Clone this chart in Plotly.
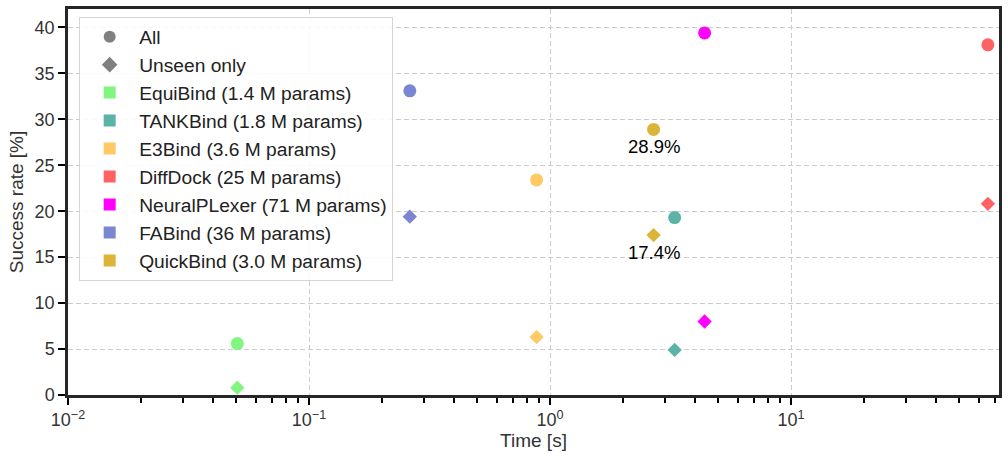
import math
import plotly.graph_objects as go

# values
methods = ['EquiBind (1.4 M params)', 'TANKBind (1.8 M params)', 'E3Bind (3.6 M params)',
           'DiffDock (25 M params)', 'NeuralPLexer (71 M params)', 'FABind (36 M params)',
           'QuickBind (3.0 M params)']
colors = ['#80f580', '#5bb3a6', '#ffc964', '#ff6262', '#ff00ff', '#7b86d2', '#dcb43a']
times = [0.0504, 3.29, 0.88, 65.6, 4.38, 0.262, 2.69]
success_all = [5.6, 19.3, 23.4, 38.1, 39.4, 33.1, 28.9]
success_unseen = [0.8, 4.9, 6.3, 20.8, 8.0, 19.4, 17.4]

labelled = 'QuickBind (3.0 M params)'

font = 'Liberation Sans, Arial, sans-serif'

fig = go.Figure()

# legend-only entries for the marker shapes
fig.add_trace(go.Scatter(x=[None], y=[None], mode='markers', name='All',
                         marker=dict(symbol='circle', size=11, color='grey')))
fig.add_trace(go.Scatter(x=[None], y=[None], mode='markers', name='Unseen only',
                         marker=dict(symbol='diamond', size=10, color='grey')))

for m, c, t, a, u in zip(methods, colors, times, success_all, success_unseen):
    # legend square
    fig.add_trace(go.Scatter(x=[None], y=[None], mode='markers', name=m,
                             marker=dict(symbol='square', size=10, color=c)))
    fig.add_trace(go.Scatter(x=[t], y=[a], mode='markers', showlegend=False,
                             marker=dict(symbol='circle', size=13, color=c)))
    fig.add_trace(go.Scatter(x=[t], y=[u], mode='markers', showlegend=False,
                             marker=dict(symbol='diamond', size=11, color=c)))
    if m == labelled:
        for v in (a, u):
            # annotations on a log axis take log10 coordinates
            fig.add_annotation(x=math.log10(t), y=v, xref='x', yref='y', text=f'{v:.1f}%',
                               showarrow=False, yshift=-17,
                               font=dict(family=font, size=18.5, color='black'))

decades = [0.01, 0.1, 1, 10]

fig.update_xaxes(type='log', range=[-2, 1.863],
                 tickvals=decades,
                 ticktext=['10<sup>−2</sup>', '10<sup>−1</sup>', '10<sup>0</sup>', '10<sup>1</sup>'],
                 ticks='outside', ticklen=7, tickwidth=2, tickcolor='black',
                 minor=dict(dtick='D1', ticks='outside', ticklen=5,
                            tickwidth=1.5, tickcolor='black', showgrid=False),
                 showgrid=True, gridcolor='#cccccc', griddash='5px,3px', gridwidth=1,
                 showline=True, linecolor='#262626', linewidth=2.5, mirror=True,
                 zeroline=False, automargin=False,
                 title=dict(text='Time [s]', font=dict(family=font, size=19, color='#333'), standoff=4),
                 tickfont=dict(family=font, size=18, color='#333'))

fig.update_yaxes(range=[0, 42], tickvals=list(range(0, 41, 5)),
                 ticks='outside', ticklen=7, tickwidth=2, tickcolor='black',
                 showgrid=True, gridcolor='#cccccc', griddash='5px,3px', gridwidth=1,
                 showline=True, linecolor='#262626', linewidth=2.5, mirror=True,
                 zeroline=False, automargin=False,
                 title=dict(text='Success rate [%]', font=dict(family=font, size=19, color='#333'), standoff=6),
                 tickfont=dict(family=font, size=18, color='#333'))

fig.update_layout(width=1008, height=469,
                  margin=dict(l=68, r=9, t=9, b=74),
                  plot_bgcolor='white', paper_bgcolor='white',
                  font=dict(family=font, size=19, color='#333'),
                  legend=dict(x=0.012, y=0.98, xanchor='left', yanchor='top',
                              bgcolor='rgba(255,255,255,0.85)', bordercolor='#d5d5d5',
                              borderwidth=1, font=dict(family=font, size=19.2, color='#222'),
                              itemsizing='constant', itemwidth=49, tracegroupgap=0))

# drop the default page margin so the figure sits at the window's corner
fig.write_html('out.html', config={'displayModeBar': False},
               post_script="document.body.style.margin='0';")
